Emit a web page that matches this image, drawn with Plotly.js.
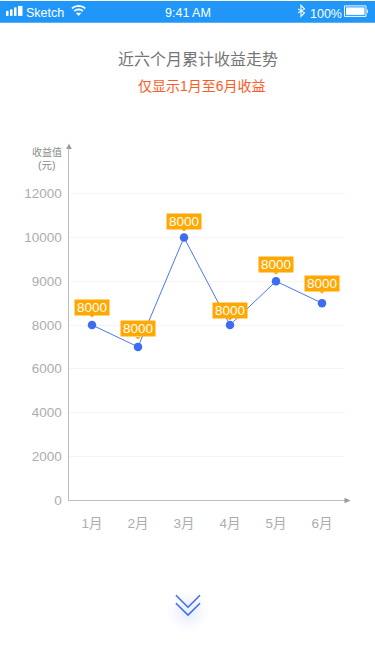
<!DOCTYPE html>
<html>
<head>
<meta charset="utf-8">
<script src="https://cdn.plot.ly/plotly-3.0.1.min.js"></script>
<style>html,body{margin:0;padding:0;background:#fff;overflow:hidden}#c{width:375px;height:667px}</style>
</head>
<body>
<div id="c"></div>
<script>
const categories = ['1月','2月','3月','4月','5月','6月'];
const seriesValues = [8000,7000,10000,8000,9000,8500];
const pointLabels = ['8000','8000','8000','8000','8000','8000'];
const yTickValues = [0,2000,4000,6000,8000,9000,10000,12000,14000];
const yTickLabels = ['0','2000','4000','6000','8000','9000','10000','12000',''];
const titleText = '近六个月累计收益走势';
const subtitleText = '仅显示1月至6月收益';

const labelShift = [18,18,16.5,15,17,20];
const CJK = '"Liberation Sans","Noto Sans CJK SC",sans-serif';
const W=375,H=667,L=69,R=345,T=149.5,B=500.5;
const px=x=>(x-L)/(R-L), py=y=>(B-y)/(B-T);

// The reference's value axis is unevenly spaced: every tick sits one equal step apart.
function slot(v){
  for(let i=0;i<yTickValues.length-1;i++){
    const a=yTickValues[i],b=yTickValues[i+1];
    if(v>=a&&v<=b) return i+(v-a)/(b-a);
  }
  return 0;
}
const ySlots=seriesValues.map(slot);
const xIdx=categories.map((_,i)=>i);

const pathPx=(pts,close)=>pts.map((p,i)=>(i?'L':'M')+px(p[0]).toFixed(5)+' '+py(p[1]).toFixed(5)).join(' ')+(close?' Z':'');
const paperShape=(o)=>Object.assign({xref:'paper',yref:'paper',layer:'above',line:{width:0}},o);
const rect=(x0,y0,x1,y1,fill,extra)=>paperShape(Object.assign({type:'rect',x0:px(x0),x1:px(x1),y0:py(y0),y1:py(y1),fillcolor:fill},extra||{}));
const poly=(pts,fill)=>paperShape({type:'path',path:pathPx(pts,true),fillcolor:fill});
const stroke=(pts,color,w)=>paperShape({type:'path',path:pathPx(pts,false),fillcolor:'rgba(0,0,0,0)',line:{color:color,width:w}});
const circle=(cx,cy,r,fill)=>paperShape({type:'circle',x0:px(cx-r),x1:px(cx+r),y0:py(cy+r),y1:py(cy-r),fillcolor:fill});
const arc=(cx,cy,r)=>{const pts=[];for(const d of [-42,-28,-14,0,14,28,42]){const t=d*Math.PI/180;pts.push([cx+r*Math.sin(t),cy-r*Math.cos(t)]);}return pts;};

const shapes=[
  rect(0,0,W,22,'#2097f8',{layer:'below'}),
  // signal
  rect(6,10,8.5,15,'#fff'),rect(10,8.5,12.5,15,'#fff'),rect(14,6.5,16.5,15,'#fff'),rect(18,5,22.5,15,'#fff'),
  // wifi
  stroke(arc(78.6,15,10),'#fff',1.6),stroke(arc(78.6,15,6.5),'#fff',1.6),
  poly([[78.6,15],[75.8,11.8],[81.4,11.8]],'#fff'),
  // bluetooth
  stroke([[298,8],[304.5,12],[301,15.5],[301,4.5],[304.5,8],[298,12]],'#fff',1.1),
  // battery
  rect(344.5,5,366,15.5,'rgba(0,0,0,0)',{line:{color:'#fff',width:1}}),
  rect(346,6.5,364.5,14,'#fff'),
  rect(367,8.5,368,12,'#cfe6fb'),
  // axis extensions and arrowheads
  stroke([[L,149.5],[L,146]],'#bdbdbd',1),
  poly([[69,143],[66.2,148.5],[71.8,148.5]],'#9a9a9a'),
  poly([[350.5,501],[344.5,498.2],[344.5,503.8]],'#9a9a9a'),
  // scroll hint glow
  circle(188,612,20,'rgba(70,120,245,0.012)'),circle(188,612,17,'rgba(70,120,245,0.015)'),
  circle(188,612,14,'rgba(70,120,245,0.02)'),circle(188,612,11,'rgba(70,120,245,0.025)'),circle(188,612,8,'rgba(70,120,245,0.03)'),
  // chevrons
  stroke([[176,596],[188,608],[200,596]],'#3f6ef0',1.6),
  stroke([[176,604],[188,616],[200,604]],'#3f6ef0',1.6)
];
// label pointers, anchored on the data points
xIdx.forEach((x,i)=>{
  const s=labelShift[i];
  shapes.push({type:'path',xref:'x',yref:'y',xsizemode:'pixel',ysizemode:'pixel',xanchor:x,yanchor:ySlots[i],layer:'above',
    path:`M -2.5 ${s-8} L 2.5 ${s-8} L 0 ${s-10.5} Z`,fillcolor:'#ffa800',line:{width:0}});
});

const txt=(t,x,y,size,color,anchor,font)=>({xref:'paper',yref:'paper',x:px(x),y:py(y),text:t,showarrow:false,
  xanchor:anchor||'center',yanchor:'middle',font:{size:size,color:color,family:font||CJK}});

const annotations=[
  txt('Sketch',24,12.5,12.5,'#fff','left'),
  txt('9:41 AM',187.5,12.5,12.5,'#fff'),
  txt('100%',308,13.5,12.5,'#fff','left'),
  txt(titleText,198,58.5,16,'#757575'),
  txt(subtitleText,201.5,85,14,'#ff5a26'),
  txt('收益值',46.5,152,10,'#8a8a8a'),
  txt('(元)',46.5,165,10.5,'#8a8a8a')
];
xIdx.forEach((x,i)=>{
  annotations.push({xref:'x',yref:'y',x:x,y:ySlots[i],yshift:labelShift[i],text:pointLabels[i],showarrow:false,
    bgcolor:'#ffa800',width:34,height:15,borderpad:0,align:'center',valign:'middle',
    font:{size:13.5,color:'#fff',family:CJK}});
});

const trace={type:'scatter',mode:'lines+markers',x:xIdx,y:ySlots,cliponaxis:false,
  line:{color:'#4a77f0',width:1},marker:{color:'#3d6cf2',size:8.5},hoverinfo:'skip'};

const layout={
  width:W,height:H,paper_bgcolor:'#fff',plot_bgcolor:'#fff',showlegend:false,
  margin:{l:L,r:W-R,t:T,b:H-B,pad:0},
  xaxis:{range:[-0.5,5.5],tickvals:xIdx,ticktext:categories,showgrid:false,zeroline:false,showline:true,
    linecolor:'#bdbdbd',linewidth:1,ticks:'outside',ticklen:11,tickcolor:'rgba(0,0,0,0)',
    tickfont:{size:13.5,color:'#adadad',family:CJK},fixedrange:true},
  yaxis:{range:[0,8],tickvals:yTickValues.map((_,i)=>i),ticktext:yTickLabels,showgrid:true,gridcolor:'#f5f5f5',gridwidth:1,
    zeroline:false,showline:true,linecolor:'#bdbdbd',linewidth:1,ticks:'outside',ticklen:3.5,tickcolor:'rgba(0,0,0,0)',
    tickfont:{size:13.5,color:'#adadad',family:CJK},fixedrange:true},
  shapes:shapes,annotations:annotations
};
Plotly.newPlot('c',[trace],layout,{displayModeBar:false,staticPlot:true});
</script>
</body>
</html>
